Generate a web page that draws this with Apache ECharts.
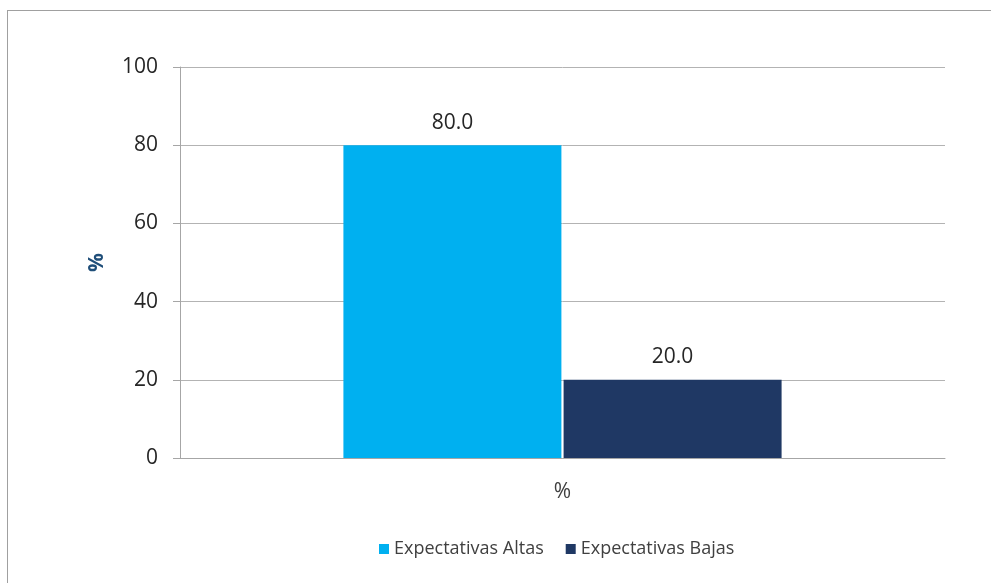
<!DOCTYPE html>
<html>
<head>
<meta charset="utf-8">
<script src="https://cdn.jsdelivr.net/npm/echarts@6/dist/echarts.min.js"></script>
<style>
    html, body { margin: 0; padding: 0; background: #fff; overflow: hidden; }
    #frame { position: absolute; left: 7px; top: 10px; width: 1000px; height: 600px; border: 1.5px solid #a0a0a0; }
    #chart { position: absolute; left: 0; top: 0; width: 991px; height: 583px; }
</style>
</head>
<body>
<div id="frame"></div>
<div id="chart"></div>
<script>
    // data
    var categories = ['%'];
    var seriesNames = ['Expectativas Altas', 'Expectativas Bajas'];
    var altas = [80.0];
    var bajas = [20.0];
    var yTicks = { min: 0, max: 100, interval: 20 };

    var colors = ['#00B0F0', '#1F3864'];
    var font = '"Open Sans", "Liberation Sans", sans-serif';

    var myChart = echarts.init(document.getElementById('chart'));
    var option = {
        color: colors,
        animation: false,
        textStyle: { fontFamily: font },
        grid: { left: 180, right: 46, top: 67, bottom: 125 },
        legend: {
            data: seriesNames,
            bottom: 20,
            left: 374,
            itemWidth: 10,
            itemHeight: 10,
            itemGap: 22,
            icon: 'rect',
            textStyle: { fontSize: 18, color: '#404040', fontFamily: font }
        },
        xAxis: {
            type: 'category',
            data: categories,
            axisLine: { lineStyle: { color: '#a6a6a6', width: 1 } },
            axisTick: { show: false },
            axisLabel: { fontSize: 21, color: '#404040', margin: 24 }
        },
        yAxis: {
            type: 'value',
            min: yTicks.min,
            max: yTicks.max,
            interval: yTicks.interval,
            name: '%',
            nameLocation: 'middle',
            nameGap: 72,
            nameRotate: 90,
            nameTextStyle: { fontSize: 21, fontWeight: 'bold', color: '#1F4E79' },
            axisLine: { show: true, lineStyle: { color: '#a6a6a6', width: 1 } },
            axisTick: { show: true, length: 7, lineStyle: { color: '#a6a6a6' } },
            axisLabel: { fontSize: 21, color: '#262626', margin: 22 },
            splitLine: { lineStyle: { color: '#b3b3b3', width: 1 } }
        },
        series: [{
            name: seriesNames[0],
            type: 'bar',
            data: altas,
            barWidth: 218,
            barGap: '1%',
            label: { show: true, position: 'top', distance: 12, fontSize: 21, color: '#262626',
                formatter: function (p) { return p.value.toFixed(1); } }
        }, {
            name: seriesNames[1],
            type: 'bar',
            data: bajas,
            barWidth: 218,
            barGap: '1%',
            label: { show: true, position: 'top', distance: 12, fontSize: 21, color: '#262626',
                formatter: function (p) { return p.value.toFixed(1); } }
        }]
    };
    myChart.setOption(option);
</script>
</body>
</html>
